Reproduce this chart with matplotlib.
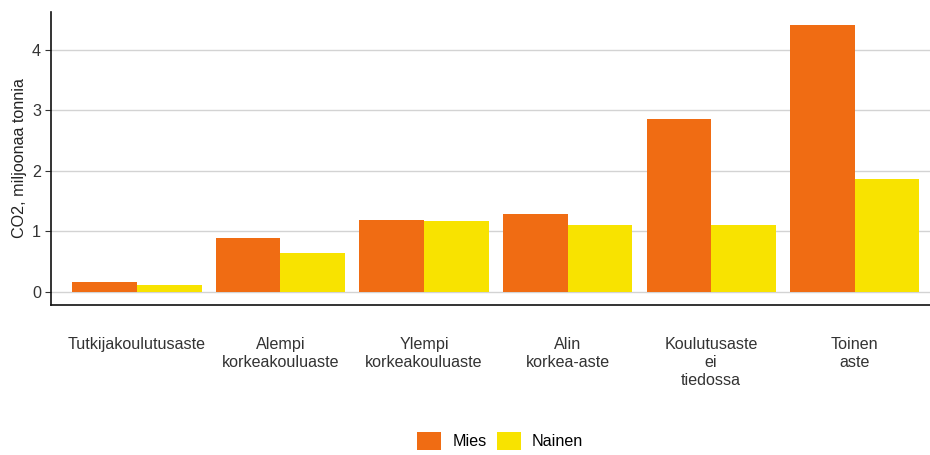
import numpy as np
import matplotlib.pyplot as plt
from matplotlib.patches import Patch

plt.rcParams['font.family'] = ['Liberation Sans', 'DejaVu Sans']

# data
categories = ['Tutkijakoulutusaste', 'Alempi\nkorkeakouluaste', 'Ylempi\nkorkeakouluaste',
              'Alin\nkorkea-aste', 'Koulutusaste\nei\ntiedossa', 'Toinen\naste']
mies = [0.165, 0.89, 1.18, 1.29, 2.85, 4.41]
nainen = [0.115, 0.635, 1.175, 1.10, 1.095, 1.86]
series_names = ['Mies', 'Nainen']
colors = ['#F06C13', '#F8E300']

fs = 11.6

fig = plt.figure(figsize=(9.3, 4.55), dpi=100)
ax = fig.add_axes([0.0546, 0.3297, 0.957, 0.6446])

x = np.arange(len(categories))
w = 0.45
ax.bar(x - w / 2, mies, width=w, color=colors[0], zorder=2)
ax.bar(x + w / 2, nainen, width=w, color=colors[1], zorder=2)

ax.set_xlim(-0.6, len(categories) - 0.4)
ax.set_ylim(-0.22, 4.63)
ax.set_yticks([0, 1, 2, 3, 4])
ax.set_xticks(x)
ax.set_xticklabels(categories, fontsize=fs, color='#333333', linespacing=1.25)
ax.tick_params(axis='x', length=0, pad=23)
ax.tick_params(axis='y', length=4, width=0.8, color='#333333', labelsize=fs,
               labelcolor='#333333', pad=3)
ax.set_ylabel('CO2, miljoonaa tonnia', fontsize=fs, color='#222222', labelpad=4)

ax.grid(axis='y', color='#D3D3D3', linewidth=1.0, zorder=0)
ax.set_axisbelow(True)
for s in ['top', 'right']:
    ax.spines[s].set_visible(False)
for s in ['left', 'bottom']:
    ax.spines[s].set_linewidth(1.2)
    ax.spines[s].set_color('#111111')

handles = [Patch(facecolor=c, edgecolor='none') for c in colors]
fig.legend(handles, series_names, loc='center', bbox_to_anchor=(0.538, 0.031), ncol=2,
           frameon=False, fontsize=fs, handlelength=1.5, handleheight=1.4,
           handletextpad=0.7, columnspacing=0.6)

plt.savefig('out.png', dpi=100)
